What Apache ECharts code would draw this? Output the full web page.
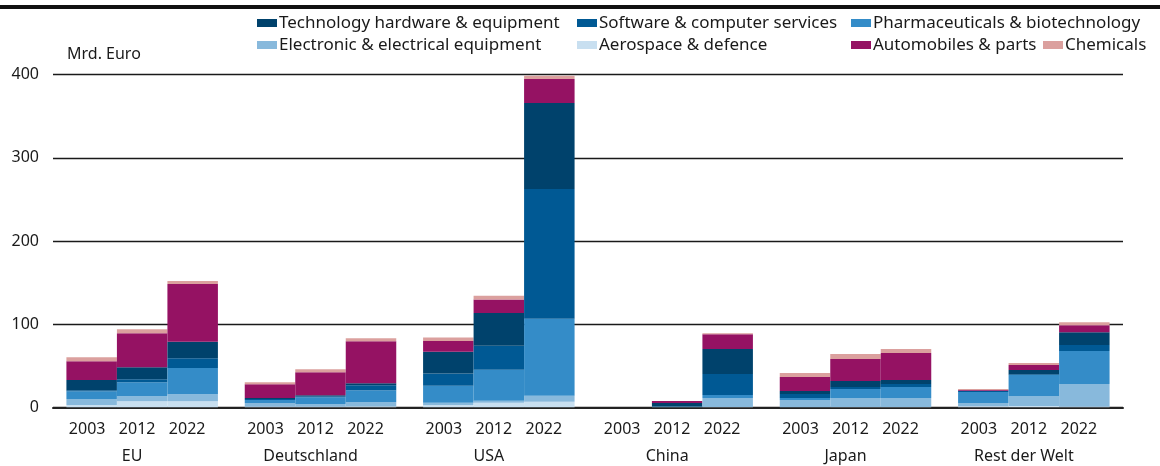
<!DOCTYPE html>
<html>
<head>
<meta charset="utf-8">
<script src="https://cdn.jsdelivr.net/npm/echarts@6/dist/echarts.min.js"></script>
<style>
html,body{margin:0;padding:0;background:#fff;}
#chart{width:1160px;height:466px;}
</style>
</head>
<body>
<div id="chart"></div>
<script>
// Categories
const groups = ['EU', 'Deutschland', 'USA', 'China', 'Japan', 'Rest der Welt'];
const years = ['2003', '2012', '2022'];
const yTicks = [0, 100, 200, 300, 400];

// Values in Mrd. Euro, order: EU 2003, 2012, 2022, Deutschland 2003, ... Rest der Welt 2022
const aerospace   = [2.8, 7.2, 7.2,   0.8, 0.8, 1.0,   2.8, 5.6, 6.8,   0, 0, 0.5,    0.2, 0.3, 0.3,   1.2, 1.6, 0.8];
const electronic  = [7.2, 6.1, 8.5,   4.4, 2.8, 5.0,   2.8, 2.4, 7.2,   0, 0.5, 10.7, 8.6, 10.9, 10.9, 4.0, 12.0, 27.2];
const pharma      = [9.3, 16.8, 31.7, 3.6, 8.4, 14.5,  20.4, 37.3, 92.6, 0, 0.3, 3.6, 2.4, 10.8, 13.2, 13.2, 25.2, 39.6];
const software    = [1.2, 3.6, 11.6,  1.2, 1.2, 6.0,   14.5, 28.8, 155.9, 0, 0.5, 25.2, 4.8, 2.4, 3.6, 1.2, 1.0, 7.2];
const techHw      = [12.4, 14.5, 19.7, 1.2, 1.2, 2.4,  26.4, 39.3, 103.4, 0, 4.0, 30.0, 3.6, 7.2, 4.8, 0.4, 5.0, 15.6];
const automobiles = [22.5, 41.0, 69.5, 16.5, 27.7, 50.6, 12.9, 16.1, 28.9, 0, 2.4, 18.0, 16.8, 26.4, 32.4, 0.8, 6.0, 8.4];
const chemicals   = [4.8, 4.8, 3.6,   2.4, 3.6, 3.6,   4.0, 4.8, 4.0,   0, 0, 1.2,    4.8, 6.0, 4.8,   1.2, 2.4, 3.6];

const sectors = [
  { name: 'Aerospace & defence', values: aerospace, color: '#c8dff0' },
  { name: 'Electronic & electrical equipment', values: electronic, color: '#88b9dc' },
  { name: 'Pharmaceuticals & biotechnology', values: pharma, color: '#348cc8' },
  { name: 'Software & computer services', values: software, color: '#005994' },
  { name: 'Technology hardware & equipment', values: techHw, color: '#00426c' },
  { name: 'Automobiles & parts', values: automobiles, color: '#951263' },
  { name: 'Chemicals', values: chemicals, color: '#dba09e' }
];

const FONT = 'Noto Sans';
const TXT = '#1a1a1a';

const series = [];
years.forEach((yr, yi) => {
  sectors.forEach(s => {
    series.push({
      type: 'bar',
      name: s.name,
      stack: 'y' + yr,
      barWidth: 50.5,
      barGap: '0%',
      itemStyle: { color: s.color },
      emphasis: { disabled: true },
      data: groups.map((g, gi) => s.values[gi * 3 + yi])
    });
  });
});

function legendCol(left, top, names) {
  return {
    orient: 'vertical',
    left: left,
    top: top,
    itemWidth: 20,
    itemHeight: 8,
    itemGap: 2,
    padding: 0,
    icon: 'rect',
    selectedMode: false,
    textStyle: { fontFamily: FONT, fontSize: 17, color: TXT, lineHeight: 20, padding: [0, 0, 0, -3] },
    data: names
  };
}

const chart = echarts.init(document.getElementById('chart'), null, { renderer: 'canvas' });
chart.setOption({
  animation: false,
  backgroundColor: '#fff',
  textStyle: { fontFamily: FONT },
  graphic: [{
    type: 'rect', left: 0, top: 5, shape: { width: 1160, height: 4 }, style: { fill: '#111' }, silent: true
  }],
  legend: [
    legendCol(257, 13, ['Technology hardware & equipment', 'Electronic & electrical equipment']),
    legendCol(577, 13, ['Software & computer services', 'Aerospace & defence']),
    legendCol(851, 13, ['Pharmaceuticals & biotechnology', 'Automobiles & parts']),
    legendCol(1043, 35, ['Chemicals'])
  ],
  grid: { left: 53, right: 37, top: 74.7, bottom: 466 - 407.3, containLabel: false },
  xAxis: {
    type: 'category',
    data: groups,
    axisTick: { show: false },
    axisLine: { lineStyle: { color: '#222', width: 2 } },
    axisLabel: {
      interval: 0,
      margin: 9,
      color: TXT,
      fontFamily: FONT,
      formatter: function (v) {
        return years.map(y => '{y|' + y + '}').join('') + '{sp| }\n{g|' + v + '}{gp| }';
      },
      rich: {
        y: { width: 50, align: 'center', fontSize: 16, lineHeight: 27, fontFamily: FONT, color: TXT },
        sp: { width: 10, fontSize: 16, lineHeight: 27 },
        g: { fontSize: 16, lineHeight: 27, fontFamily: FONT, color: TXT },
        gp: { width: 20, fontSize: 16, lineHeight: 27 }
      }
    }
  },
  yAxis: {
    type: 'value',
    min: yTicks[0],
    max: yTicks[yTicks.length - 1],
    interval: 100,
    name: 'Mrd. Euro',
    nameLocation: 'end',
    nameGap: 12,
    nameTextStyle: { fontFamily: FONT, fontSize: 16, color: TXT, align: 'left', padding: [0, 0, 0, 14] },
    axisLine: { show: false },
    axisTick: { show: false },
    axisLabel: { margin: 14, fontFamily: FONT, fontSize: 16, color: TXT },
    splitLine: { lineStyle: { color: '#1a1a1a', width: 1.3 } }
  },
  series: series
});
</script>
</body>
</html>
